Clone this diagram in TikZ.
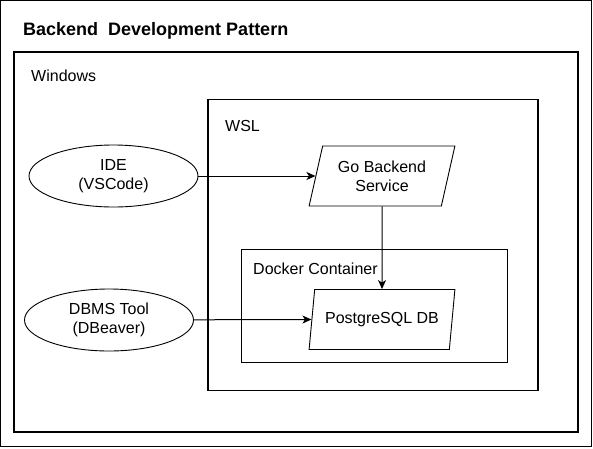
\documentclass[tikz,border=0pt]{standalone}
\usepackage{fontspec}
\setmainfont{Liberation Sans}
\usetikzlibrary{shapes.geometric,arrows.meta}
\tikzset{
        box/.style={draw, line width=1.1pt, inner sep=0pt},
        tool/.style={draw, line width=0.9pt, ellipse, minimum width=169, minimum height=62, inner sep=0pt, align=center},
        service/.style={draw, line width=0.9pt, trapezium, trapezium left angle=72, trapezium right angle=108,
                        trapezium stretches=true, minimum width=146, minimum height=60, inner sep=0pt, align=center},
        lbl/.style={anchor=base west, inner sep=0pt},
        link/.style={line width=1pt, -{Stealth[length=9pt,width=8pt,inset=2.5pt]}}
    }

\begin{document}
\begin{tikzpicture}[x=1pt, y=-1pt, font=\fontsize{16}{19.2}\selectfont]
            \useasboundingbox (0,0) rectangle (593,448);
            \draw [line width=1pt] (0.5,0.5) rectangle (591.5,446.5);

            \node [lbl, font=\fontsize{18}{21}\selectfont\bfseries] (title) at (23, 35) {Backend\ \ Development Pattern};

            \node [box, minimum width=564, minimum height=380] (windows) at (296, 242) {};
            \node [box, minimum width=330, minimum height=291] (wsl) at (373, 245) {};
            \node [box, minimum width=266, minimum height=113] (docker) at (374.5, 306) {};

            \node [lbl] (windowstxt) at (31, 81) {Windows};
            \node [lbl] (wsltxt) at (225, 131) {WSL};
            \node [lbl] (dockertxt) at (253, 274) {Docker Container};

            \node [tool] (ide) at (113.5, 176) {IDE\\(VSCode)};
            \node [tool] (dbms) at (109, 320) {DBMS Tool\\(DBeaver)};
            \node [service] (go) at (382, 176) {Go Backend\\Service};
            \node [service] (pg) at (382, 319.5) {PostgreSQL DB};

            \draw [link] (ide) -- (go.left side);
            \draw [link] (go) -- (pg);
            \draw [link] (dbms) -- (pg.left side);
        \end{tikzpicture}
\end{document}
